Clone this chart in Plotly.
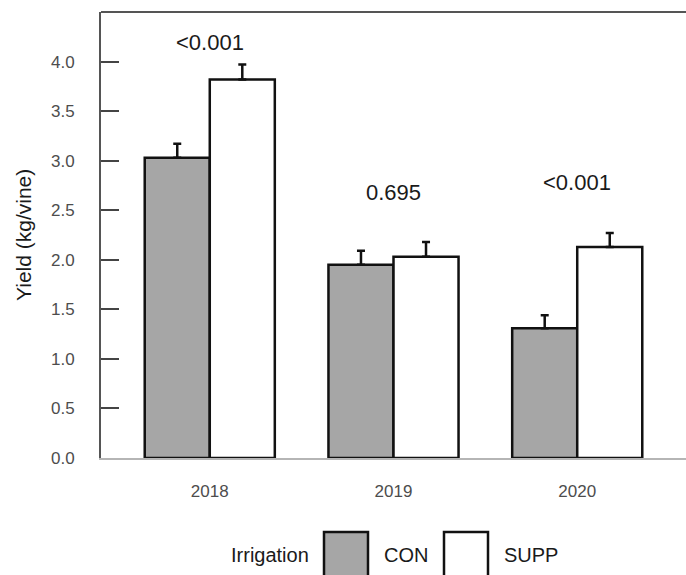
import plotly.graph_objects as go

# Yield per vine by season and irrigation treatment (mean with upper error)
years = ["2018", "2019", "2020"]
con_yield = [3.03, 1.95, 1.31]
con_err = [0.14, 0.14, 0.13]
supp_yield = [3.82, 2.03, 2.13]
supp_err = [0.15, 0.15, 0.14]
p_values = ["<0.001", "0.695", "<0.001"]
y_ticks = [0.0, 0.5, 1.0, 1.5, 2.0, 2.5, 3.0, 3.5, 4.0]

# vertical placement of the p-value labels (data units)
p_label_y = [4.19, 2.68, 2.78]

W, H = 686, 575
L, R, T, B = 101, 0, 12, 117
PW, PH = W - L - R, H - T - B

FONT = "Liberation Sans, Arial, sans-serif"
GRAY_FILL = "#a6a6a6"
OUTLINE = "#111111"


def px_x(px):
    return (px - L) / PW


def px_y(py):
    return (H - B - py) / PH


fig = go.Figure()
fig.add_trace(go.Bar(
    x=years, y=con_yield, name="CON",
    marker=dict(color=GRAY_FILL, line=dict(color=OUTLINE, width=2.5)),
    error_y=dict(type="data", array=con_err, arrayminus=[0] * len(con_err),
                 symmetric=False, color=OUTLINE, thickness=2.5, width=4),
    showlegend=False,
))
fig.add_trace(go.Bar(
    x=years, y=supp_yield, name="SUPP",
    marker=dict(color="white", line=dict(color=OUTLINE, width=2.5)),
    error_y=dict(type="data", array=supp_err, arrayminus=[0] * len(supp_err),
                 symmetric=False, color=OUTLINE, thickness=2.5, width=4),
    showlegend=False,
))

annotations = []
# category axes take the serial index of each year for annotation positions
for i, (p, yl) in enumerate(zip(p_values, p_label_y)):
    annotations.append(dict(x=i, y=yl, xref="x", yref="y", text=p,
                            showarrow=False, xanchor="center", yanchor="middle",
                            font=dict(family=FONT, size=22, color="#1a1a1a")))

# y-axis title
annotations.append(dict(x=px_x(23), y=0.5, xref="paper", yref="paper",
                        text="Yield (kg/vine)", textangle=-90, showarrow=False,
                        xanchor="center", yanchor="middle",
                        font=dict(family=FONT, size=21, color="#1a1a1a")))

# legend row: title, swatches and labels
leg_y = px_y(555)
annotations += [
    dict(x=px_x(270), y=leg_y, xref="paper", yref="paper", text="Irrigation",
         showarrow=False, xanchor="center", yanchor="middle",
         font=dict(family=FONT, size=20, color="#1a1a1a")),
    dict(x=px_x(406), y=leg_y, xref="paper", yref="paper", text="CON",
         showarrow=False, xanchor="center", yanchor="middle",
         font=dict(family=FONT, size=20, color="#1a1a1a")),
    dict(x=px_x(531), y=leg_y, xref="paper", yref="paper", text="SUPP",
         showarrow=False, xanchor="center", yanchor="middle",
         font=dict(family=FONT, size=20, color="#1a1a1a")),
]

shapes = [
    # top frame line
    dict(type="line", xref="paper", yref="paper", x0=0, x1=1, y0=1, y1=1,
         line=dict(color="#555555", width=2)),
    # legend swatches
    dict(type="rect", xref="paper", yref="paper",
         x0=px_x(324), x1=px_x(368), y0=px_y(532), y1=px_y(577),
         fillcolor=GRAY_FILL, line=dict(color=OUTLINE, width=2.5)),
    dict(type="rect", xref="paper", yref="paper",
         x0=px_x(444), x1=px_x(488), y0=px_y(532), y1=px_y(577),
         fillcolor="white", line=dict(color=OUTLINE, width=2.5)),
]

fig.update_layout(
    width=W, height=H,
    margin=dict(l=L, r=R, t=T, b=B, autoexpand=False),
    paper_bgcolor="white", plot_bgcolor="white",
    barmode="group", bargap=0.292, bargroupgap=0,
    annotations=annotations, shapes=shapes,
    font=dict(family=FONT),
    xaxis=dict(
        type="category", range=[-0.592, 2.592],
        showline=True, linecolor="#b5b5b5", linewidth=2,
        showgrid=False, zeroline=False,
        ticks="", ticklabelstandoff=17,
        tickfont=dict(family=FONT, size=17, color="#4d4d4d"),
        fixedrange=True,
    ),
    yaxis=dict(
        range=[0, 4.5], tickvals=y_ticks,
        ticktext=[f"{v:.1f}" for v in y_ticks],
        showline=True, linecolor="#555555", linewidth=2,
        showgrid=False, zeroline=False,
        ticks="inside", ticklen=18, tickwidth=2, tickcolor="#444444",
        ticklabelstandoff=21,
        tickfont=dict(family=FONT, size=17, color="#4d4d4d"),
        fixedrange=True,
    ),
)

fig.write_html("out.html")
